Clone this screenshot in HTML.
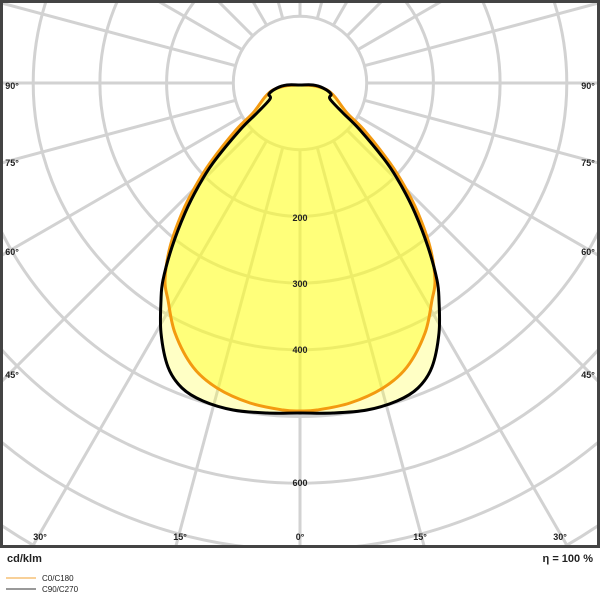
<!DOCTYPE html>
<html><head><meta charset="utf-8"><style>
html,body{margin:0;padding:0;background:#fff;width:600px;height:600px;overflow:hidden;}
svg{display:block;font-family:"Liberation Sans",Arial,sans-serif;}
</style></head><body>
<svg id="s" width="600" height="600" viewBox="0 0 600 600" xmlns="http://www.w3.org/2000/svg">
<defs><clipPath id="c"><rect x="3" y="3" width="594" height="543"/></clipPath></defs>
<g id="grid" clip-path="url(#c)" stroke="#d2d2d2" stroke-width="3" fill="none"></g>
<g id="curves"></g>
<g font-size="9" font-weight="bold" fill="#222" text-anchor="middle">
<text x="300" y="221">200</text><text x="300" y="287">300</text><text x="300" y="353">400</text><text x="300" y="486">600</text>
<text x="12" y="89">90°</text><text x="588" y="89">90°</text>
<text x="12" y="166">75°</text><text x="588" y="166">75°</text>
<text x="12" y="255">60°</text><text x="588" y="255">60°</text>
<text x="12" y="378">45°</text><text x="588" y="378">45°</text>
<text x="40" y="540">30°</text><text x="180" y="540">15°</text><text x="300" y="540">0°</text><text x="420" y="540">15°</text><text x="560" y="540">30°</text>
</g>
<rect x="1.5" y="1.5" width="597" height="545" fill="none" stroke="#444" stroke-width="3"/>
<text x="7" y="562" font-size="11" font-weight="bold" fill="#222">cd/klm</text>
<text x="593" y="562" font-size="11" font-weight="bold" fill="#222" text-anchor="end">η = 100 %</text>
<line x1="6" y1="578" x2="36" y2="578" stroke="#f0a030" stroke-width="1"/>
<line x1="6" y1="589" x2="36" y2="589" stroke="#333" stroke-width="1"/>
<text x="42" y="581" font-size="8" fill="#222">C0/C180</text>
<text x="42" y="592" font-size="8" fill="#222">C90/C270</text>
</svg>
<script>
var ns="http://www.w3.org/2000/svg",cx=300,cy=83,u=66.7;
var g=document.getElementById("grid");
function el(t,a,p){var e=document.createElementNS(ns,t);for(var k in a)e.setAttribute(k,a[k]);p.appendChild(e);return e;}
for(var k=1;k<=12;k++)el("circle",{cx:cx,cy:cy,r:k*u},g);
for(var a=0;a<360;a+=15){var t=a*Math.PI/180;el("line",{x1:cx+u*Math.sin(t),y1:cy+u*Math.cos(t),x2:cx+900*Math.sin(t),y2:cy+900*Math.cos(t)},g);}
function full(r){var L=r.map(function(p){return[600-p[0],p[1]];}).reverse();return r.concat(L.slice(1));}
function cr(P){var d="M"+P[0][0]+","+P[0][1];var n=P.length;for(var i=0;i<n;i++){var p0=P[(i-1+n)%n],p1=P[i],p2=P[(i+1)%n],p3=P[(i+2)%n];
d+=" C"+(p1[0]+(p2[0]-p0[0])/6)+","+(p1[1]+(p2[1]-p0[1])/6)+" "+(p2[0]-(p3[0]-p1[0])/6)+","+(p2[1]-(p3[1]-p1[1])/6)+" "+p2[0]+","+p2[1];}return d+"Z";}
var B=full([[300,85],[313,85],[323,88],[331,94],[330,99],[343,113],[360,130],[387,163],[402,187],[415,213],[428,247],[437,280],[439,300],[439,333],[432,367],[418,388],[397,401],[367,410],[333,413],[300,413]]).slice(0,-1);
var O=full([[300,85],[315,86],[327,90],[335,97],[347,113],[364,130],[390,163],[405,187],[418,213],[430,247],[435,280],[432,300],[425,333],[407,367],[383,388],[350,403],[317,410],[300,411]]).slice(0,-1);
var c=document.getElementById("curves");
el("path",{d:cr(B),fill:"#ffff40","fill-opacity":"0.3",stroke:"none"},c);
el("path",{d:cr(O),fill:"#ffff20","fill-opacity":"0.45",stroke:"none"},c);
el("path",{d:cr(O),fill:"none",stroke:"#f39a10","stroke-width":"3"},c);
el("path",{d:cr(B),fill:"none",stroke:"#000","stroke-width":"3","stroke-linejoin":"round"},c);
</script>
</body></html>
